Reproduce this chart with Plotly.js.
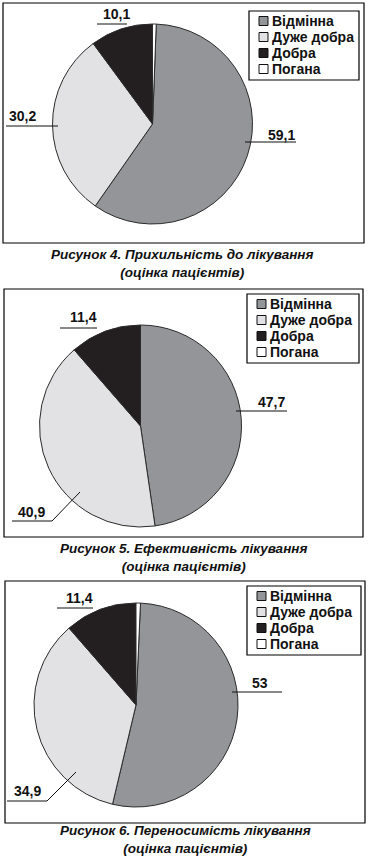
<!DOCTYPE html>
<html><head><meta charset="utf-8">
<script src="https://cdn.plot.ly/plotly-3.0.1.min.js"></script>
<style>html,body{margin:0;padding:0;background:#fff;} #chart{width:370px;height:858px;}</style>
</head><body><div id="chart"></div>
<script>
// ---- data ----
const categories = ['Відмінна', 'Дуже добра', 'Добра', 'Погана'];
const adherence = [59.1, 30.2, 10.1, 0.6];      // Рисунок 4
const efficacy = [47.7, 40.9, 11.4, 0];         // Рисунок 5
const tolerability = [53, 34.9, 11.4, 0.7];     // Рисунок 6
const captionLine1 = ['Рисунок 4. Прихильність до лікування', 'Рисунок 5. Ефективність лікування', 'Рисунок 6. Переносимість лікування'];
const captionLine2 = ['(оцінка пацієнтів)', '(оцінка пацієнтів)', '(оцінка пацієнтів)'];
const sliceColors = ['#939598', '#e2e2e4', '#231f20', '#ffffff'];

// ---- layout geometry (pixels) ----
const W = 370, H = 858;
const px = x => x / W;
const py = y => 1 - y / H;
const panels = [
  {values: adherence, cx: 152.5, cy: 124, r: 100, box: [3, 3, 364, 243], legend: [249, 11, 359, 80], cap: [182, 263.5],
   labels: [
     {i: 0, tx: 281, ty: 135, path: [[245, 142], [296, 142]]},
     {i: 1, tx: 22, ty: 116, path: [[6, 126], [58, 126]]},
     {i: 2, tx: 116, ty: 14, path: [[97, 24], [127, 24]]}
   ]},
  {values: efficacy, cx: 140.5, cy: 426, r: 101, box: [4, 289, 363, 537], legend: [247, 294, 359, 363], cap: [183, 557],
   labels: [
     {i: 0, tx: 271, ty: 402, path: [[236, 411], [287, 411]]},
     {i: 1, tx: 31, ty: 512, path: [[12, 521], [52, 521], [80, 492]]},
     {i: 2, tx: 83, ty: 317, path: [[60, 328], [97, 328]]}
   ]},
  {values: tolerability, cx: 136, cy: 705, r: 102, box: [5, 581, 365, 823], legend: [247, 586, 361, 655], cap: [185, 839.5],
   labels: [
     {i: 0, tx: 260, ty: 683, path: [[232, 692], [282, 692]]},
     {i: 1, tx: 27, ty: 791, path: [[7, 801], [47, 801], [76, 772]]},
     {i: 2, tx: 79, ty: 598, path: [[57, 608], [93, 608]]}
   ]}
];

const fontFam = '"Liberation Sans", Arial, sans-serif';
const fmt = v => String(v).replace('.', ',');

const traces = [];
const annotations = [];
const shapes = [];
const layout = {
  width: W, height: H,
  margin: {l: 0, r: 0, t: 0, b: 0},
  paper_bgcolor: '#ffffff', plot_bgcolor: '#ffffff',
  font: {family: fontFam, color: '#111'},
  showlegend: false,
  annotations: annotations, shapes: shapes
};

panels.forEach((p, k) => {
  const total = p.values.reduce((a, b) => a + b, 0);
  traces.push({
    type: 'pie',
    labels: categories,
    values: p.values,
    sort: false,
    direction: 'clockwise',
    rotation: p.values[3] / total * 360,
    textinfo: 'none',
    hoverinfo: 'label+value',
    marker: {colors: sliceColors, line: {color: '#2b2b2b', width: 1}},
    domain: {x: [px(p.cx - p.r), px(p.cx + p.r)], y: [py(p.cy + p.r), py(p.cy - p.r)]},
    showlegend: false
  });
  // panel frame
  shapes.push({type: 'rect', xref: 'paper', yref: 'paper',
    x0: px(p.box[0]), x1: px(p.box[2]), y0: py(p.box[1]), y1: py(p.box[3]),
    line: {color: '#000', width: 1.2}, layer: 'below'});
  // legend box
  const lg = p.legend;
  shapes.push({type: 'rect', xref: 'paper', yref: 'paper',
    x0: px(lg[0]), x1: px(lg[2]), y0: py(lg[1]), y1: py(lg[3]),
    fillcolor: '#ffffff', line: {color: '#000', width: 1.2}});
  categories.forEach((c, j) => {
    const rowY = lg[1] + 10 + 16 * j;
    shapes.push({type: 'rect', xref: 'paper', yref: 'paper',
      x0: px(lg[0] + 10), x1: px(lg[0] + 19), y0: py(rowY - 4.5), y1: py(rowY + 4.5),
      fillcolor: sliceColors[j], line: {color: '#111', width: 1}});
    annotations.push({xref: 'paper', yref: 'paper', x: px(lg[0] + 22), y: py(rowY),
      xanchor: 'left', yanchor: 'middle', showarrow: false, text: c, borderpad: 0,
      font: {family: fontFam, size: 14, weight: 'bold', color: '#111'}});
  });
  // slice value labels with leader lines
  p.labels.forEach(l => {
    annotations.push({xref: 'paper', yref: 'paper', x: px(l.tx), y: py(l.ty),
      xanchor: 'center', yanchor: 'middle', showarrow: false,
      text: fmt(p.values[l.i]),
      font: {family: fontFam, size: 14, weight: 'bold', color: '#111'}});
    const d = l.path.map((pt, j) => (j ? 'L' : 'M') + px(pt[0]) + ',' + py(pt[1])).join(' ');
    shapes.push({type: 'path', xref: 'paper', yref: 'paper', path: d,
      line: {color: '#111', width: 1}});
  });
  // caption
  annotations.push({xref: 'paper', yref: 'paper', x: px(p.cap[0]), y: py(p.cap[1]),
    xanchor: 'center', yanchor: 'middle', showarrow: false,
    text: captionLine1[k] + '<br>' + captionLine2[k],
    font: {family: fontFam, size: 13.5, weight: 'bold', style: 'italic', color: '#111'}});
});

Plotly.newPlot('chart', traces, layout, {displayModeBar: false, staticPlot: true});
</script>
</body></html>
